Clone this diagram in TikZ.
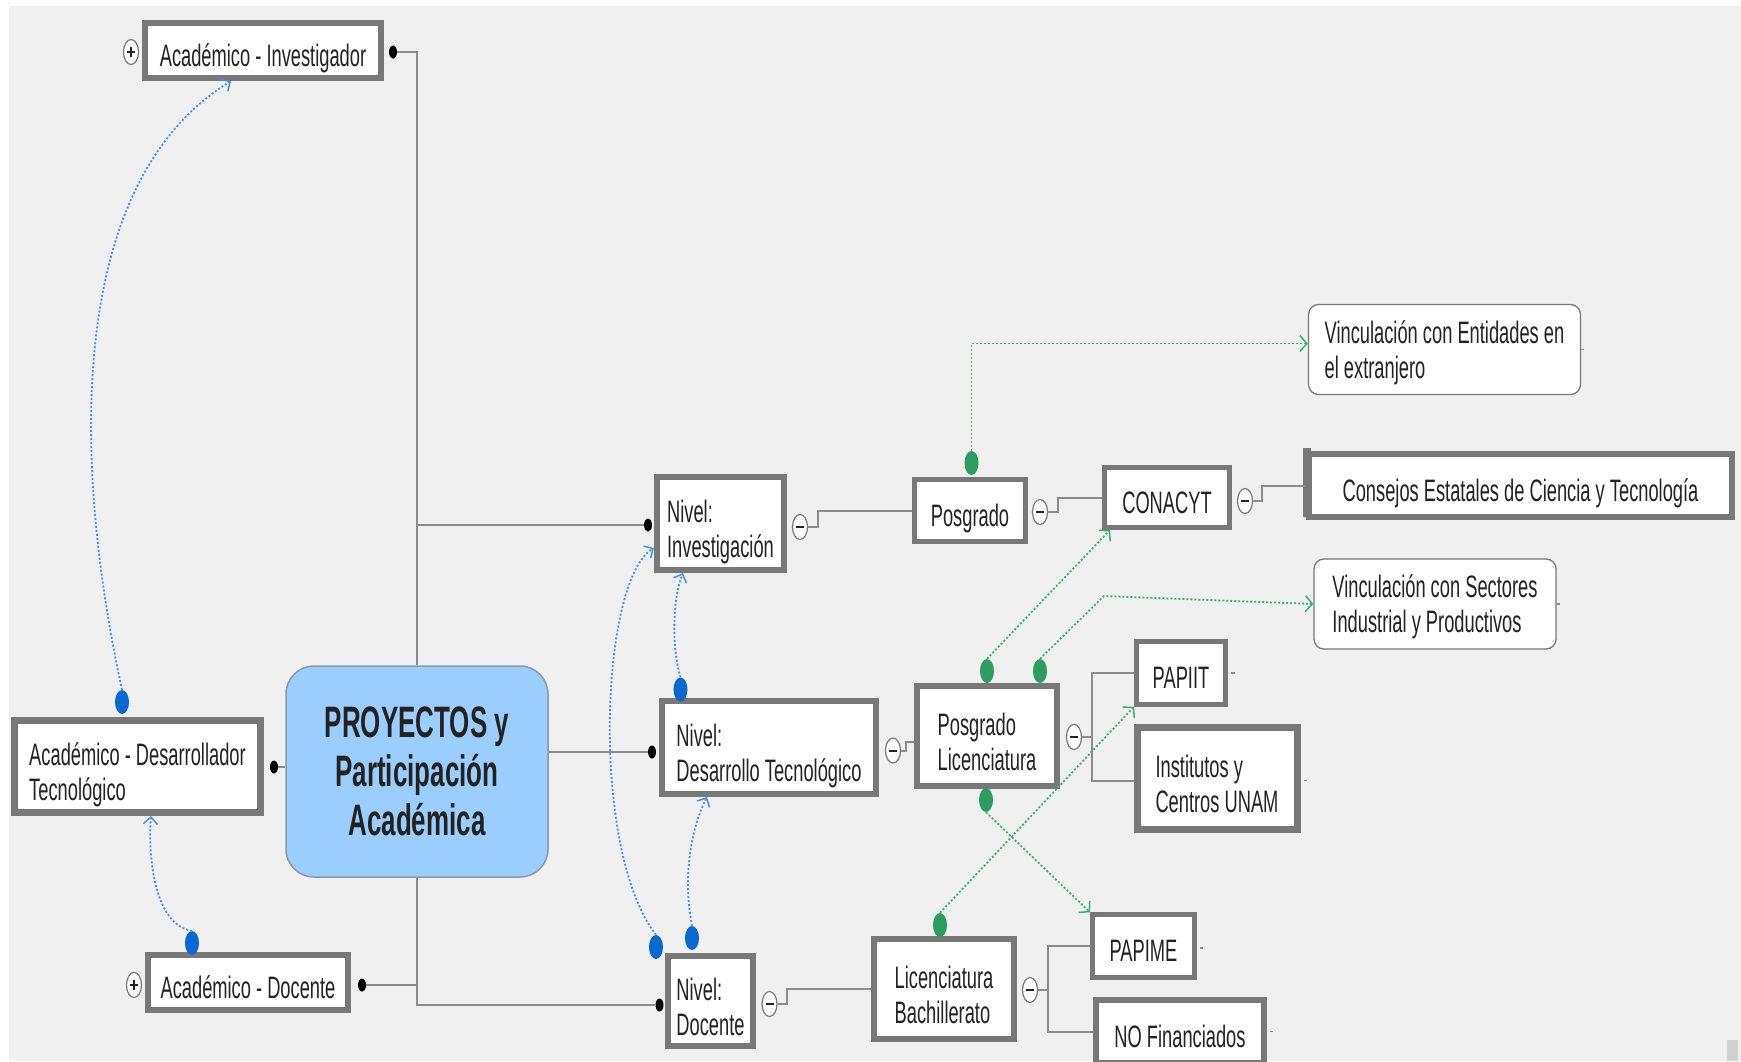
\documentclass[tikz,border=0pt]{standalone}
\usepackage{fontspec}
\newfontfamily\nf[FakeStretch=0.59]{Liberation Sans}
\usetikzlibrary{shapes.geometric,arrows.meta}
\definecolor{bgc}{HTML}{F0F0F0}
\definecolor{bord}{HTML}{787878}
\definecolor{conncol}{HTML}{8C8C8C}
\definecolor{txt}{HTML}{222222}
\definecolor{rootblue}{HTML}{9BCDFF}
\definecolor{rootbord}{HTML}{8A98A8}
\definecolor{blueD}{HTML}{0A68D0}
\definecolor{blueL}{HTML}{4A8FE0}
\definecolor{greenD}{HTML}{2E9C62}
\definecolor{greenL}{HTML}{3DAE6E}
\tikzset{
  box/.style={draw=bord, line width=6pt, fill=white, inner sep=0pt, align=left,
    font={\nf\fontsize{31}{35}\selectfont}, text=txt},
  rbox/.style={draw=bord, line width=1.3pt, fill=white, inner sep=0pt, align=left,
    rounded corners=10pt, font={\nf\fontsize{31}{35}\selectfont}, text=txt,
    text height=60pt, text depth=2.5pt},
  one/.style={text height=32pt, text depth=1pt},
  two/.style={text height=70pt, text depth=2pt},
  rootbox/.style={draw=rootbord, line width=1.5pt, fill=rootblue, inner sep=0pt, align=center,
    rounded corners=28pt, font={\nf\bfseries\fontsize{44}{49}\selectfont}, text=txt},
  conn/.style={draw=conncol, line width=2pt},
  kdot/.style={ellipse, fill=black, inner sep=0pt, minimum width=8pt, minimum height=13pt},
  bdot/.style={ellipse, fill=blueD, inner sep=0pt, minimum width=14pt, minimum height=24pt},
  gdot/.style={ellipse, fill=greenD, inner sep=0pt, minimum width=14pt, minimum height=24pt},
  minusc/.style={ellipse, draw=bord, line width=1.2pt, fill=white, inner sep=0pt,
    minimum width=15pt, minimum height=25pt,
    path picture={\draw[line width=2pt, txt] ([xshift=-4pt]path picture bounding box.center) -- ([xshift=4pt]path picture bounding box.center);}},
  plusc/.style={ellipse, draw=bord, line width=1.2pt, fill=white, inner sep=0pt,
    minimum width=15pt, minimum height=25pt,
    path picture={\draw[line width=2pt, txt] ([xshift=-4pt]path picture bounding box.center) -- ([xshift=4pt]path picture bounding box.center);
      \draw[line width=2pt, txt] ([yshift=-5pt]path picture bounding box.center) -- ([yshift=5pt]path picture bounding box.center);}},
  bl/.style={draw=blueL, line width=1.8pt, dash pattern=on 2pt off 2pt,
    -{Straight Barb[length=7pt,width=14pt,line width=1.5pt]}},
  gr/.style={draw=greenL, line width=1.8pt, dash pattern=on 2pt off 2pt,
    -{Straight Barb[length=7pt,width=16pt,line width=1.5pt]}},
  tick/.style={draw=conncol, line width=1.5pt}
}
\begin{document}
\begin{tikzpicture}[x=1pt,y=-1pt]
\useasboundingbox (0,0) rectangle (1741,1061);
\fill[white] (0,0) rectangle (1741,1061);
\fill[bgc] (9,6) rectangle (1741,1061);
\fill[black!18] (1727,1040) rectangle (1738,1061);

% nodes
\node[box, one, minimum width=236, minimum height=55] (inv) at (263,50.5) {Académico - Investigador};
\node[box, two, line width=7pt, minimum width=246, minimum height=92] (dev) at (137.5,766.5) {Académico - Desarrollador\\Tecnológico};
\node[box, one, minimum width=200, minimum height=55] (doc) at (248,982.5) {Académico - Docente};
\node[rootbox, minimum width=262, minimum height=211] (root) at (417,771.5) {PROYECTOS y\\Participación\\Académica};
\node[box, two, minimum width=127, minimum height=93] (ninv) at (720.5,523.5) {Nivel:\\Investigación};
\node[box, two, minimum width=213.5, minimum height=93] (ndes) at (769,747.5) {Nivel:\\Desarrollo Tecnológico};
\node[box, two, minimum width=85, minimum height=90] (ndoc) at (710.5,1001) {Nivel:\\Docente};
\node[box, one, line width=5pt, minimum width=111, minimum height=62] (posg) at (970,510.5) {Posgrado};
\node[box, one, line width=5pt, minimum width=125, minimum height=60] (conacyt) at (1167,497.5) {CONACYT};
\node[box, one, line width=6pt, minimum width=423, minimum height=63] (consejos) at (1520.5,485.5) {Consejos Estatales de Ciencia y Tecnología};
\fill[bord] (consejos.north west) ++(-3,-3) rectangle ++(8,69);
\node[rbox, minimum width=272, minimum height=90] (vext) at (1444.5,349.5) {Vinculación con Entidades en\\el extranjero};
\node[box, two, minimum width=140, minimum height=100] (plic) at (987,736) {Posgrado\\Licenciatura};
\node[box, one, line width=5pt, minimum width=89, minimum height=62.5] (papiit) at (1181,673) {PAPIIT};
\node[box, two, line width=7pt, minimum width=160, minimum height=102] (inst) at (1217,778.5) {Institutos y\\Centros UNAM};
\node[rbox, minimum width=242, minimum height=90] (vsec) at (1435,604) {Vinculación con Sectores\\Industrial y Productivos};
\node[box, two, minimum width=140.5, minimum height=99.5] (lbach) at (944,989) {Licenciatura\\Bachillerato};
\node[box, one, line width=5pt, minimum width=102, minimum height=62.5] (papime) at (1143.5,946) {PAPIME};
\node[box, one, minimum width=168.5, minimum height=63] (nofin) at (1180,1031.5) {NO Financiados};

% black dots
\node[kdot] (invd) at (393,52) {};
\node[kdot] (devd) at (274,767) {};
\node[kdot] (docd) at (362,985) {};
\node[kdot] (ninvd) at (648,525) {};
\node[kdot] (ndesd) at (652,752) {};
\node[kdot] (ndocd) at (659.5,1005) {};

% minus / plus
\node[plusc] (invp) at (131,52) {};
\node[plusc] (docp) at (134,985) {};
\node[minusc] (ninvm) at (800,527) {};
\node[minusc] (ndesm) at (893,750.5) {};
\node[minusc] (ndocm) at (769.5,1004) {};
\node[minusc] (posgm) at (1040,512) {};
\node[minusc] (conm) at (1245,501) {};
\node[minusc] (plicm) at (1074,737) {};
\node[minusc] (lbachm) at (1030,990) {};

% tree connectors
\draw[conn] (root.north) |- (invd.east);
\draw[conn] (root.north) |- (ninvd.west);
\draw[conn] (root.east |- ndesd) -- (ndesd.west);
\draw[conn] (root.south) |- (ndocd.west);
\draw[conn] (docd.east) -- (docd.east -| root.south);
\draw[conn] (devd.east) -- (devd.east -| root.west);

\draw[conn] (ninvm.east) -- ++(10,0) |- (posg.west);
\draw[conn] (ndesm.east) -- ++(5,0) |- ([yshift=-6pt]plic.west);
\draw[conn] (ndocm.east) -- ++(9,0) |- (lbach.west);
\draw[conn] (posgm.east) -- ++(10,0) |- (conacyt.west);
\draw[conn] (conm.east) -- ++(9,0) |- (consejos.west);
\draw[conn] (plicm.east) -- ++(10,0) coordinate (pb);
\draw[conn] (pb) |- (papiit.west);
\draw[conn] (pb) |- ([yshift=-2pt]inst.west);
\draw[conn] (lbachm.east) -- ++(10,0) coordinate (lb);
\draw[conn] (lb) |- (papime.west);
\draw[conn] (lb) |- (nofin.west);

% small ticks
\draw[tick] ([xshift=3pt]papiit.east) -- ++(4,0);
\draw[tick] ([xshift=3pt,yshift=-2pt]inst.east) -- ++(3,0);
\draw[tick] ([xshift=3pt,yshift=-2pt]papime.east) -- ++(3,0);
\draw[tick] ([xshift=3pt]nofin.east) -- ++(3,0);
\draw[tick] (vext.east) -- ++(3,0);
\draw[tick] (vsec.east) -- ++(3,0);

% blue dots and arrows
\node[bdot] (b1) at (122,702) {};
\node[bdot] (b2) at (192,943) {};
\node[bdot] (b3) at (656,947) {};
\node[bdot] (b4) at (692,938) {};
\node[bdot] (b5) at (680.5,689.5) {};
\draw[bl] (b1.north) .. controls (70,450) and (70,180) .. ([xshift=-32pt]inv.south);
\draw[bl] (b2.north) .. controls (155,925) and (148,860) .. ([xshift=13.5pt]dev.south);
\draw[bl] (b3.north) .. controls (590,850) and (600,580) .. ([yshift=-24.5pt]ninv.west);
\draw[bl] (b5.north) .. controls (672,650) and (672,600) .. ([xshift=-37.5pt]ninv.south);
\draw[bl] (b4.north) .. controls (683,880) and (690,830) .. ([xshift=-62pt]ndes.south);

% green dots and arrows
\node[gdot] (g1) at (971.5,463) {};
\node[gdot] (g2) at (987,671) {};
\node[gdot] (g3) at (1040,671) {};
\node[gdot] (g4) at (986,800) {};
\node[gdot] (g5) at (940,925) {};
\draw[gr] (g1.north) |- ([yshift=6pt]vext.west);
\draw[gr] (g2.north) -- ([xshift=-57pt]conacyt.south);
\draw[gr] (g3.north) -- (1104,596) -- (vsec.west);
\draw[gr] (g4.south) -- (papime.north west);
\draw[gr] (g5.north) -- (papiit.south west);
\end{tikzpicture}
\end{document}
